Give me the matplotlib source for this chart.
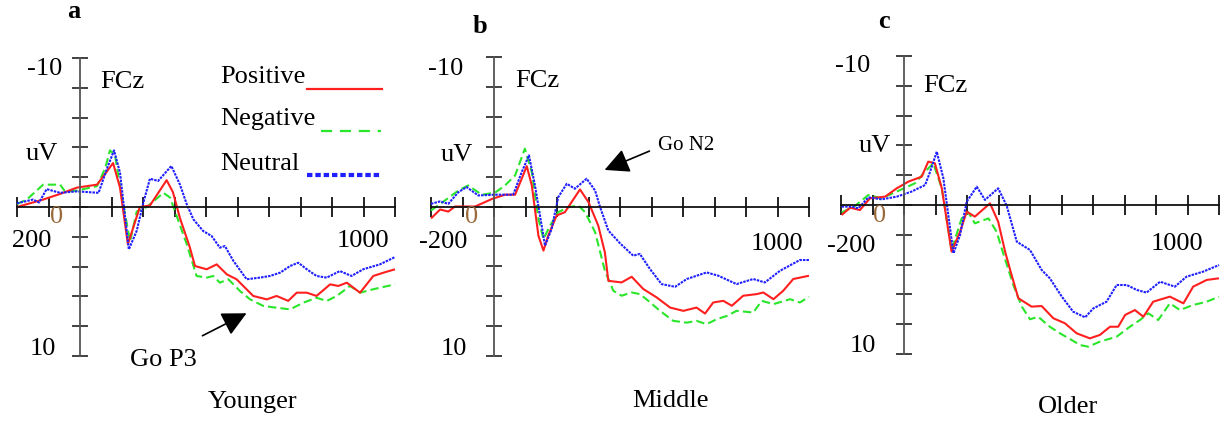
import matplotlib
matplotlib.use("Agg")
import matplotlib.pyplot as plt
from matplotlib.lines import Line2D
from matplotlib.patches import FancyArrowPatch
from matplotlib.transforms import Bbox, TransformedBbox

# ---------------- data (ms, uV) ----------------
a_pos_t = [-200,-117,-60,-10,54,86,105,127,152,190,222,275,295,317,349,365,402,434,466,497,550,593,624,661,688,720,751,794,820,847,889,931,963,1000]
a_pos_v = [0,-0.5,-0.9,-1.3,-1.5,-2.4,-2.95,-1.3,2.5,0,-0.1,-1.8,-1.0,0.72,2.73,3.96,4.18,3.85,4.52,4.85,5.97,6.2,5.97,6.3,5.75,5.75,5.97,5.19,5.3,5.08,5.75,4.63,4.41,4.18]
a_neg_t = [-200,-169,-117,-63,-48,-10,54,80,95,111,130,159,180,212,265,286,339,370,402,423,444,471,508,540,582,624,667,709,751,783,815,857,889,931,1000]
a_neg_v = [-0.2,-0.5,-1.5,-1.5,-1.05,-1.1,-1.4,-2.6,-3.8,-3.5,-1.0,2.3,0.3,0,-0.95,-0.63,2.5,4.63,4.74,4.63,5.08,4.85,5.64,6.2,6.64,6.76,6.87,6.42,6.09,6.31,5.97,5.3,5.75,5.52,5.19]
a_neu_t = [-200,-149,-130,-106,-63,-10,59,86,108,127,155,180,200,222,248,290,317,339,360,391,418,444,460,487,529,571,603,635,667,693,720,751,783,825,862,899,952,1000]
a_neu_v = [-0.25,-0.5,-0.3,-1.2,-0.95,-1.05,-0.95,-2.6,-3.8,-2.3,2.85,1.6,-0.2,-1.9,-1.75,-2.75,-1.52,-0.18,0.83,1.61,1.95,2.73,2.62,3.62,4.85,4.74,4.63,4.41,3.96,3.74,4.18,4.63,4.74,4.3,4.63,4.18,3.85,3.36]

b_pos_t = [-200,-171,-145,-124,-60,-7,35,67,88,104,120,141,157,172,199,225,273,300,331,352,363,405,437,474,517,559,601,643,670,696,728,755,791,834,855,887,918,950,1000]
b_pos_v = [0.8,0.2,0.34,0,0,-0.5,-0.79,-0.79,-1.86,-2.7,-1.41,1.95,2.95,1.95,0.6,0.38,-1.14,-0.29,1.28,3.07,4.97,5.08,4.7,5.52,6.09,6.76,6.98,6.76,7.16,6.42,6.31,6.64,5.97,5.86,5.75,6.2,5.64,4.85,4.63]
b_neg_t = [-200,-156,-113,-82,-39,3,35,67,98,120,141,157,178,204,236,268,289,321,352,379,405,437,463,490,527,569,612,643,675,707,739,770,823,850,887,940,971,1000]
b_neg_v = [0.27,-0.4,-1.07,-1.41,-0.79,-0.92,-1.41,-2.08,-3.87,-2.3,0.83,2.17,1.28,0.38,0.05,-0.07,0.38,1.72,4.3,5.64,5.97,5.75,5.86,6.31,6.98,7.65,7.77,7.65,7.87,7.54,7.32,6.98,7.09,6.31,6.53,6.2,6.42,6.04]
b_neu_t = [-200,-171,-145,-113,-87,-50,3,61,88,111,130,162,183,204,231,257,294,321,337,363,400,442,463,495,532,575,612,675,712,770,823,860,908,971,1000]
b_neu_v = [-0.18,-0.34,-0.18,-0.96,-1.3,-0.74,-0.79,-0.79,-2.3,-3.42,-1.41,2.62,1.5,-0.63,-1.52,-1.19,-1.86,-1.07,0.05,1.61,2.46,3.29,3.17,4.18,5.19,5.37,4.85,4.41,4.63,5.19,4.85,5.08,4.3,3.58,3.58]

c_pos_t = [-198,-171,-140,-108,-60,-23,14,56,77,98,120,151,178,199,225,273,299,321,337,363,405,437,474,511,548,590,622,654,680,702,733,760,791,844,887,918,961,1000]
c_pos_v = [0.67,0.18,0.34,-0.45,-0.56,-1.12,-1.57,-1.9,-2.91,-2.8,-1.12,3.13,1.79,0.45,0.78,-0.11,1.12,3.13,4.36,6.26,6.82,6.78,7.6,7.94,8.61,8.95,8.72,8.17,8.17,7.38,7.05,7.5,6.49,6.15,6.6,5.48,5.03,4.92]
c_neg_t = [-198,-156,-113,-71,-23,35,67,93,120,151,183,204,225,268,294,310,347,374,400,426,463,495,532,559,585,622,675,717,749,776,807,844,876,918,961,1000]
c_neg_v = [0.5,0.07,-0.67,-0.45,-0.9,-1.46,-2.24,-2.8,-1.12,3.02,0.9,0.49,1.23,0.9,1.79,2.91,5.37,6.82,7.67,7.5,8.17,8.61,9.06,9.4,9.51,9.17,8.84,8.17,7.72,7.27,7.72,6.6,7.05,6.71,6.49,6.15]
c_neu_t = [-198,-166,-145,-113,-71,-23,24,67,83,104,125,157,178,199,231,257,299,326,358,400,437,463,501,537,575,601,643,675,707,739,770,813,860,897,950,1000]
c_neu_v = [0.11,0.11,0.22,-0.51,-0.38,-0.56,-0.9,-1.34,-2.24,-3.58,-1.79,3.24,2.01,-0.22,-1.23,-0.34,-1.12,0.05,2.46,3.02,4.36,4.92,6.15,7.16,7.54,6.94,6.49,5.37,5.37,5.7,5.88,5.15,5.48,4.81,4.47,4.03]

group_names = ["Younger", "Middle", "Older"]
panel_letters = ["a", "b", "c"]
legend_labels = ["Positive", "Negative", "Neutral"]
x_ticks = list(range(-200, 1001, 100))
y_ticks = list(range(-10, 11, 2))

# ---------------- style ----------------
W, H = 1223, 421
FONT = "Liberation Serif"
FS = 19
RED, GREEN, BLUE = "#ff1f1f", "#2ae62a", "#1f1fff"
plt.rcParams["font.family"] = [FONT, "DejaVu Serif"]

fig = plt.figure(figsize=(W / 100, H / 100), dpi=100)

def fx(px):
    return px / W

def fy(py):
    return 1 - py / H

def T(px, py, s, ha="left", size=FS, **kw):
    return fig.text(fx(px), fy(py), s, ha=ha, va="baseline", fontsize=size, **kw)

# axes pixel frames: left, right, top(-10), bottom(+10)
frames = [(17, 395, 58, 356), (431, 809, 57, 356), (841, 1219, 56, 354)]
series = [
    [(a_neg_t, a_neg_v), (a_pos_t, a_pos_v), (a_neu_t, a_neu_v)],
    [(b_neg_t, b_neg_v), (b_pos_t, b_pos_v), (b_neu_t, b_neu_v)],
    [(c_neg_t, c_neg_v), (c_pos_t, c_pos_v), (c_neu_t, c_neu_v)],
]
styles = [
    dict(color=GREEN, lw=1.5, ls=(0, (4, 2))),
    dict(color=RED, lw=1.5, ls="-"),
    dict(color=BLUE, lw=1.5, ls=(0, (1.2, 0.5))),
]

axes = []
for (l, r, t, b), ser in zip(frames, series):
    ax = fig.add_axes([fx(l), fy(b), (r - l) / W, (b - t) / H])
    ax.set_xlim(-200, 1000)
    ax.set_ylim(10, -10)
    ax.patch.set_alpha(0)
    for sp in ("top", "right"):
        ax.spines[sp].set_visible(False)
    ax.spines["left"].set_position(("data", 0))
    ax.spines["bottom"].set_position(("data", 0))
    ax.spines["left"].set_color("#555555")
    ax.spines["left"].set_linewidth(1.3)
    ax.spines["bottom"].set_linewidth(1.3)
    ax.spines["bottom"].set_color("#111111")
    ax.set_xticks(x_ticks)
    ax.set_yticks(y_ticks)
    ax.set_xticklabels([])
    ax.set_yticklabels([])
    ax.tick_params(axis="x", direction="inout", length=14, width=1.3, color="#111111")
    ax.tick_params(axis="y", direction="inout", length=12, width=1.3, color="#333333")
    for (tt, vv), st in zip(ser, styles):
        ax.plot(tt, vv, solid_capstyle="butt", dash_capstyle="butt",
                solid_joinstyle="round", clip_on=False, **st)
    axes.append(ax)

# ---------------- texts ----------------
# panel a
T(67, 18, panel_letters[0], fontweight="bold")
T(45, 75, "-10", ha="center")
T(100, 88, "FCz")
T(42, 160, "uV", ha="center")
T(43, 355, "10", ha="center")
T(57, 223, "0", ha="center", color="#9a6a3a")
t200 = T(51, 247, "-200", ha="right")
t200.set_clip_box(TransformedBbox(Bbox([[11 / W, 0], [1, 1]]), fig.transFigure))
t200.set_clip_on(True)
T(389, 247, "1000", ha="right")
T(253, 408, group_names[0], ha="center")
# legend
T(220, 83, legend_labels[0])
T(220, 125, legend_labels[1])
T(220, 170, legend_labels[2])
fig.add_artist(Line2D([fx(307), fx(382)], [fy(89), fy(89)], color=RED, lw=1.6))
fig.add_artist(Line2D([fx(321), fx(381)], [fy(131), fy(131)], color=GREEN, lw=1.6,
                      ls=(0, (5, 3.5)), dash_capstyle="butt"))
fig.add_artist(Line2D([fx(307), fx(380)], [fy(175), fy(175)], color=BLUE, lw=3.0,
                      ls=(0, (1.3, 0.7)), dash_capstyle="butt"))
# Go P3
T(130, 366, "Go P3")
fig.add_artist(FancyArrowPatch(
    (fx(200), fy(337)), (fx(249), fy(312)), transform=fig.transFigure,
    arrowstyle="-|>,head_length=10,head_width=5", color="black", lw=1.2, mutation_scale=1.5))

# panel b
T(473, 33, panel_letters[1], fontweight="bold")
T(446, 75, "-10", ha="center")
T(515, 87, "FCz")
T(457, 161, "uV", ha="center")
T(454, 355, "10", ha="center")
T(472, 223, "0", ha="center", color="#9a6a3a")
T(467, 248, "-200", ha="right")
T(803, 250, "1000", ha="right")
T(670, 407, group_names[1], ha="center")
T(658, 150, "Go N2", size=15)
fig.add_artist(FancyArrowPatch(
    (fx(652), fy(150)), (fx(602), fy(171)), transform=fig.transFigure,
    arrowstyle="-|>,head_length=10,head_width=5", color="black", lw=1.2, mutation_scale=1.5))

# panel c
T(878, 28, panel_letters[2], fontweight="bold")
T(853, 72, "-10", ha="center")
T(923, 92, "FCz")
T(875, 152, "uV", ha="center")
T(863, 352, "10", ha="center")
T(880, 222, "0", ha="center", color="#9a6a3a")
T(875, 252, "-200", ha="right")
T(1203, 250, "1000", ha="right")
T(1068, 413, group_names[2], ha="center")

fig.savefig("out.png", dpi=100)
